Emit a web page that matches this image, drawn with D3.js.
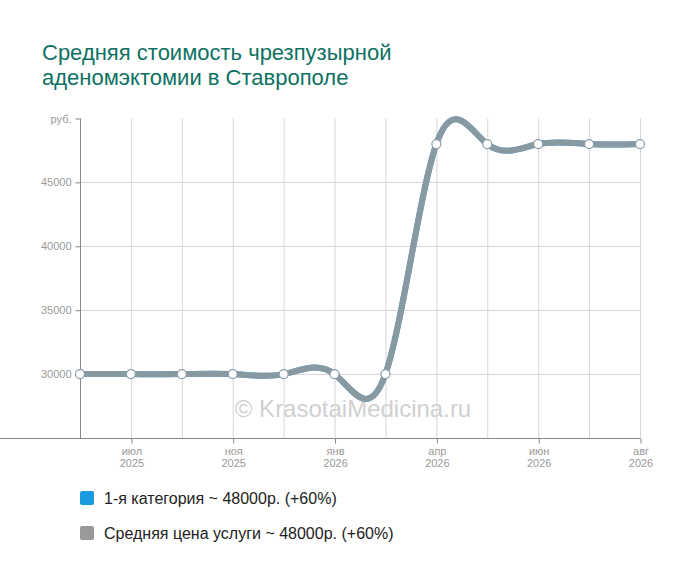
<!DOCTYPE html>
<html>
<head>
<meta charset="utf-8">
<script src="https://cdn.jsdelivr.net/npm/d3@7"></script>
<style>
  body { margin: 0; background: #fff; font-family: "Liberation Sans", Arial, sans-serif; }
</style>
</head>
<body>
<div id="chart"></div>
<script>
// data
let monthLabels = ["", "июл", "", "ноя", "", "янв", "", "апр", "", "июн", "", "авг"];
let yearLabels  = ["", "2025", "", "2025", "", "2026", "", "2026", "", "2026", "", "2026"];
let category1   = [30000, 30000, 30000, 30000, 30000, 30000, 30000, 48000, 48000, 48000, 48000, 48000];
let avgPrice    = [30000, 30000, 30000, 30000, 30000, 30000, 30000, 48000, 48000, 48000, 48000, 48000];
let yTicks = [30000, 35000, 40000, 45000, 50000];
let legendItems = [
    {name: "1-я категория ~ 48000р. (+60%)", color: "#1a9be0"},
    {name: "Средняя цена услуги ~ 48000р. (+60%)", color: "#999999"}
];

let width = 700, height = 582;
let svg = d3.select("#chart").append("svg")
    .attr("width", width)
    .attr("height", height);

// title
let title = svg.append("text")
    .attr("fill", "#0e7163")
    .style("font-size", "22px");
title.append("tspan").attr("x", 42).attr("y", 60).text("Средняя стоимость чрезпузырной");
title.append("tspan").attr("x", 42).attr("y", 85).text("аденомэктомии в Ставрополе");

let x = d3.scalePoint()
    .domain(d3.range(category1.length))
    .range([80, 640]);
let y = d3.scaleLinear()
    .domain([25000, 50000])
    .range([438, 118.5]);

// grid
let grid = svg.append("g");
grid.selectAll("line.v")
    .data(d3.range(1, category1.length))
    .enter().append("line")
    .attr("x1", d => x(d) + 0.5).attr("x2", d => x(d) + 0.5)
    .attr("y1", y(50000)).attr("y2", y(25000))
    .attr("stroke", "#d6d6d6");
grid.selectAll("line.h")
    .data(yTicks.slice(0, 4))
    .enter().append("line")
    .attr("x1", 80).attr("x2", 641)
    .attr("y1", d => Math.round(y(d)) + 0.5).attr("y2", d => Math.round(y(d)) + 0.5)
    .attr("stroke", "#d6d6d6");

// y axis
let yAxis = svg.append("g")
    .attr("transform", "translate(80.5,0)")
    .call(d3.axisLeft(y).tickValues(yTicks).tickSize(5).tickSizeOuter(0)
        .tickFormat(d => d === 50000 ? "руб." : d));
yAxis.select(".domain").attr("stroke", "#888").attr("d", "M0," + y(50000) + "V" + y(25000));
yAxis.selectAll(".tick line").attr("stroke", "#888");
yAxis.selectAll(".tick text")
    .attr("fill", "#999")
    .attr("x", -9)
    .style("font-family", "Liberation Sans, Arial, sans-serif")
    .style("font-size", "11px");

// x axis
let xAxis = svg.append("g")
    .attr("transform", "translate(0.5,438.5)")
    .call(d3.axisBottom(x).tickSize(5).tickSizeOuter(0).tickFormat(""));
xAxis.select(".domain").attr("stroke", "#888").attr("d", "M-5.5,0H640");
xAxis.selectAll(".tick")
    .filter(d => monthLabels[d] === "")
    .remove();
xAxis.selectAll(".tick line").attr("stroke", "#888");
xAxis.selectAll(".tick").each(function(d) {
    let t = d3.select(this).append("text")
        .attr("fill", "#999")
        .attr("text-anchor", "middle")
        .style("font-family", "Liberation Sans, Arial, sans-serif")
        .style("font-size", "11px");
    t.append("tspan").attr("x", 0).attr("y", 16).text(monthLabels[d]);
    t.append("tspan").attr("x", 0).attr("y", 28).text(yearLabels[d]);
});

// watermark
svg.append("text")
    .attr("x", 353).attr("y", 417)
    .attr("text-anchor", "middle")
    .attr("fill", "#d0d0d0")
    .style("font-size", "24px")
    .text("© KrasotaiMedicina.ru");

// lines
let line = d3.line()
    .x((d, i) => x(i))
    .y(d => y(d))
    .curve(d3.curveNatural);

svg.append("path")
    .datum(category1)
    .attr("d", line)
    .attr("fill", "none")
    .attr("stroke", "#1a9be0")
    .attr("stroke-width", 6);
svg.append("path")
    .datum(avgPrice)
    .attr("d", line)
    .attr("fill", "none")
    .attr("stroke", "#999")
    .attr("stroke-opacity", 0.88)
    .attr("stroke-width", 6);

svg.selectAll("circle.pt")
    .data(avgPrice)
    .enter().append("circle")
    .attr("cx", (d, i) => x(i))
    .attr("cy", d => y(d))
    .attr("r", 4.5)
    .attr("fill", "#fff")
    .attr("stroke", "#8a9faa")
    .attr("stroke-width", 1.2);

// legend
let legend = svg.selectAll("g.legend")
    .data(legendItems)
    .enter().append("g")
    .attr("transform", (d, i) => "translate(80," + (491 + i * 35) + ")");
legend.append("rect")
    .attr("width", 14).attr("height", 14)
    .attr("rx", 2)
    .attr("fill", d => d.color);
legend.append("text")
    .attr("x", 24).attr("y", 13)
    .attr("fill", "#222")
    .style("font-size", "16px")
    .text(d => d.name);
</script>
</body>
</html>
